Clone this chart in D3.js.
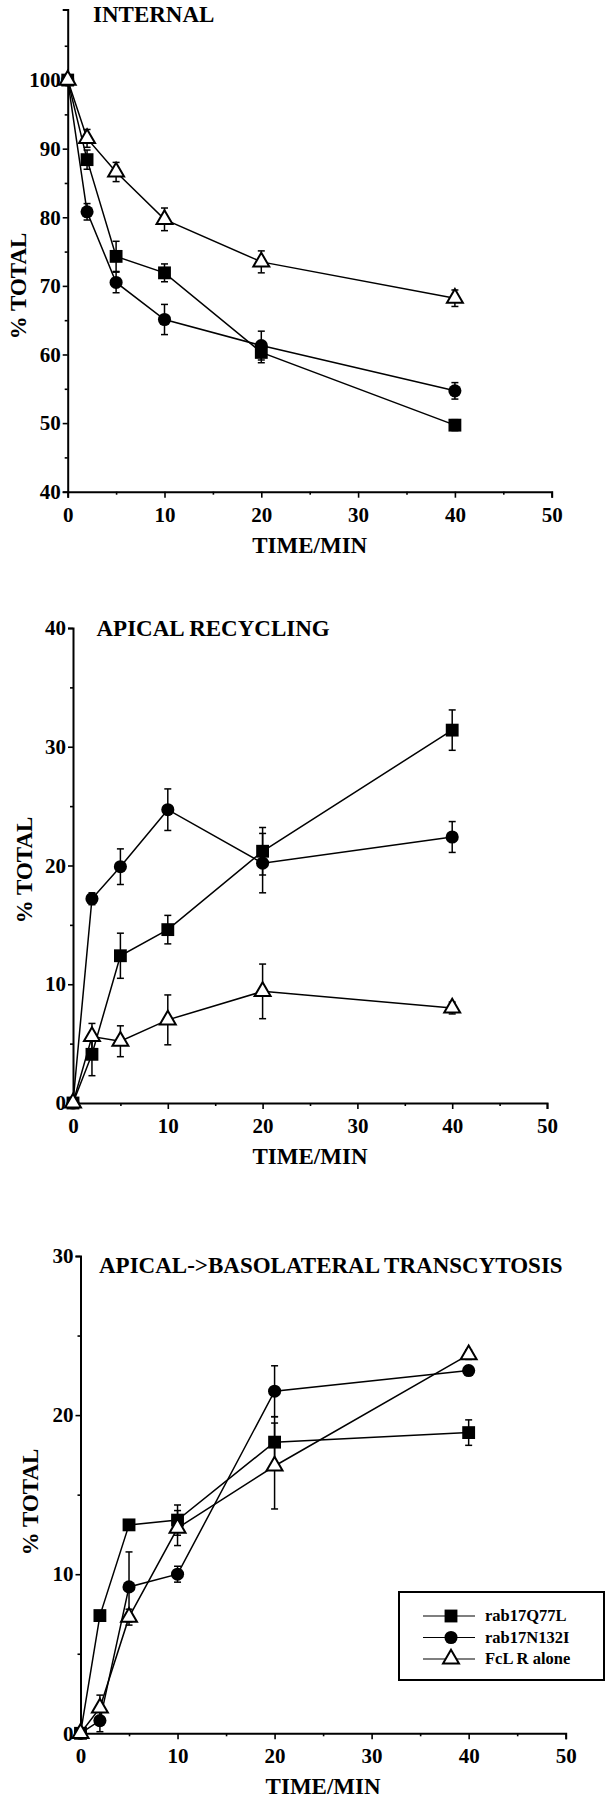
<!DOCTYPE html>
<html>
<head>
<meta charset="utf-8">
<script src="https://cdn.jsdelivr.net/npm/d3@7"></script>
<style>
  html, body { margin: 0; padding: 0; background: #fff; }
  svg text { font-family: "Liberation Serif", "Times New Roman", serif; font-weight: bold; fill: #000; }
</style>
</head>
<body>
<svg id="chart" width="609" height="1800"></svg>
<script>
// ---------- DATA ----------
const times = [0, 2, 5, 10, 20, 40];
const seriesNames = ["rab17Q77L", "rab17N132I", "FcL R alone"];
const seriesShapes = ["square", "circle", "triangle"];

// Panel 1: INTERNAL
const internalQ77L   = [100, 88.4, 74.3, 71.9, 60.3, 49.7];
const internalN132I  = [100, 80.8, 70.5, 65.1, 61.3, 54.7];
const internalFcLR   = [100, 91.5, 86.6, 79.7, 73.5, 68.2];
const internalQ77LErr  = [0, 1.4, 2.2, 1.3, 1.5, 0.8];
const internalN132IErr = [0, 1.2, 1.5, 2.2, 2.1, 1.2];
const internalFcLRErr  = [0, 1.3, 1.4, 1.65, 1.6, 1.2];

// Panel 2: APICAL RECYCLING
const recycQ77L   = [0, 4.1, 12.4, 14.6, 21.2, 31.4];
const recycN132I  = [0, 17.2, 19.9, 24.7, 20.2, 22.4];
const recycFcLR   = [0, 5.6, 5.2, 7.0, 9.4, 8.0];
const recycQ77LErr  = [0, 1.8, 1.9, 1.2, 2.0, 1.7];
const recycN132IErr = [0, 0.5, 1.5, 1.75, 2.5, 1.3];
const recycFcLRErr  = [0, 1.1, 1.3, 2.1, 2.3, 0.5];

// Panel 3: APICAL->BASOLATERAL TRANSCYTOSIS
const transQ77L   = [0, 7.4, 13.1, 13.4, 18.3, 18.9];
const transN132I  = [0, 0.8, 9.2, 10.0, 21.5, 22.8];
const transFcLR   = [0, 1.6, 7.3, 12.9, 16.8, 23.8];
const transQ77LErr  = [0, 0.3, 0.3, 0.95, 1.6, 0.8];
const transN132IErr = [0, 0.7, 2.2, 0.5, 1.6, 0.3];
const transFcLRErr  = [0, 0.8, 0.5, 1.1, 2.7, 0.3];

const xTicks = [0, 10, 20, 30, 40, 50];
const xMinorTicks = [5, 15, 25, 35, 45];
const internalYTicks = [40, 50, 60, 70, 80, 90, 100];
const internalYMinor = [45, 55, 65, 75, 85, 95, 105];
const recycYTicks = [0, 10, 20, 30, 40];
const recycYMinor = [5, 15, 25, 35];
const transYTicks = [0, 10, 20, 30];
const transYMinor = [5, 15, 25];

const panelTitles = ["INTERNAL", "APICAL RECYCLING", "APICAL->BASOLATERAL TRANSCYTOSIS"];
const xAxisTitle = "TIME/MIN";
const yAxisTitle = "% TOTAL";

// ---------- LAYOUT ----------
const panels = [
  { title: panelTitles[0], x0: 67.7, x1: 551.7, yBot: 491.7, yTop: 9.4, yDom: [40, 110.3],
    yTicks: internalYTicks, yMinor: internalYMinor,
    series: [[internalQ77L, internalQ77LErr], [internalN132I, internalN132IErr], [internalFcLR, internalFcLRErr]],
    titleX: 93, titleY: 22, yLabX: 18, yLabY: 286 },
  { title: panelTitles[1], x0: 73, x1: 547, yBot: 1103, yTop: 628, yDom: [0, 40],
    yTicks: recycYTicks, yMinor: recycYMinor,
    series: [[recycQ77L, recycQ77LErr], [recycN132I, recycN132IErr], [recycFcLR, recycFcLRErr]],
    titleX: 96.5, titleY: 636, yLabX: 24, yLabY: 870 },
  { title: panelTitles[2], x0: 80.5, x1: 565.7, yBot: 1733.3, yTop: 1256, yDom: [0, 30],
    yTicks: transYTicks, yMinor: transYMinor,
    series: [[transQ77L, transQ77LErr], [transN132I, transN132IErr], [transFcLR, transFcLRErr]],
    titleX: 99, titleY: 1273, yLabX: 30, yLabY: 1502 }
];

const svg = d3.select("#chart");

function drawMarker(g, shape, cx, cy) {
  if (shape === "square") {
    g.append("path").attr("d", d3.symbol(d3.symbolSquare, 165)()).attr("transform", `translate(${cx},${cy})`)
      .attr("fill", "#000");
  } else if (shape === "circle") {
    g.append("path").attr("d", d3.symbol(d3.symbolCircle, 135)()).attr("transform", `translate(${cx},${cy})`)
      .attr("fill", "#000");
  } else {
    g.append("path").attr("d", d3.symbol(d3.symbolTriangle, 110)()).attr("transform", `translate(${cx},${cy})`)
      .attr("fill", "#fff").attr("stroke", "#000").attr("stroke-width", 2);
  }
}

panels.forEach(p => {
  const g = svg.append("g");
  const x = d3.scaleLinear().domain([0, 50]).range([p.x0, p.x1]);
  const y = d3.scaleLinear().domain(p.yDom).range([p.yBot, p.yTop]);

  // X axis
  g.append("g").attr("transform", `translate(0,${p.yBot})`)
    .call(d3.axisBottom(x).tickValues(xTicks).tickSize(6).tickPadding(9).tickFormat(d3.format("d")));
  g.append("g").attr("transform", `translate(0,${p.yBot})`)
    .call(d3.axisBottom(x).tickValues(xMinorTicks).tickSize(3).tickFormat(""))
    .select(".domain").remove();
  // Y axis
  g.append("g").attr("transform", `translate(${p.x0},0)`)
    .call(d3.axisLeft(y).tickValues(p.yTicks).tickSize(5).tickPadding(2).tickFormat(d3.format("d")));
  g.append("g").attr("transform", `translate(${p.x0},0)`)
    .call(d3.axisLeft(y).tickValues(p.yMinor).tickSize(3).tickFormat(""))
    .select(".domain").remove();

  g.selectAll(".domain").attr("stroke", "#000").attr("stroke-width", 2);
  g.selectAll(".tick line").attr("stroke", "#000").attr("stroke-width", 1.6);
  g.selectAll(".tick text").style("font-size", "21px").style("font-family", "'Liberation Serif', serif")
    .style("font-weight", "bold").attr("fill", "#000");

  // Titles
  g.append("text").attr("x", p.titleX).attr("y", p.titleY).style("font-size", "23px").text(p.title);
  g.append("text").attr("x", (p.x0 + p.x1) / 2).attr("y", p.yBot + 61)
    .attr("text-anchor", "middle").style("font-size", "23px").text(xAxisTitle);
  g.append("text").attr("transform", `translate(${p.yLabX},${p.yLabY}) rotate(-90)`)
    .attr("text-anchor", "middle").attr("dy", "0.35em").style("font-size", "23px").text(yAxisTitle);

  const line = d3.line().x((d, i) => x(times[i])).y(d => y(d));

  // Lines
  p.series.forEach(([vals]) => {
    g.append("path").datum(vals).attr("d", line).attr("fill", "none")
      .attr("stroke", "#000").attr("stroke-width", 1.5);
  });
  // Error bars
  p.series.forEach(([vals, errs]) => {
    vals.forEach((v, i) => {
      if (!errs[i]) return;
      const cx = x(times[i]);
      const yt = y(v + errs[i]), yb = y(v - errs[i]);
      g.append("line").attr("x1", cx).attr("x2", cx).attr("y1", yt).attr("y2", yb)
        .attr("stroke", "#000").attr("stroke-width", 1.5);
      [yt, yb].forEach(yy => g.append("line").attr("x1", cx - 3.5).attr("x2", cx + 3.5)
        .attr("y1", yy).attr("y2", yy).attr("stroke", "#000").attr("stroke-width", 1.5));
    });
  });
  // Markers
  p.series.forEach(([vals], si) => {
    vals.forEach((v, i) => drawMarker(g, seriesShapes[si], x(times[i]), y(v)));
  });
});

// Legend (in the third panel)
const lg = svg.append("g");
lg.append("rect").attr("x", 399).attr("y", 1592).attr("width", 205).attr("height", 88)
  .attr("fill", "#fff").attr("stroke", "#000").attr("stroke-width", 2);
const legendRows = [1616, 1637.5, 1659];
seriesNames.forEach((name, i) => {
  const yy = legendRows[i];
  lg.append("line").attr("x1", 423).attr("x2", 475).attr("y1", yy).attr("y2", yy)
    .attr("stroke", "#000").attr("stroke-width", 1.2);
  drawMarker(lg, seriesShapes[i], 451, yy);
  lg.append("text").attr("x", 485).attr("y", yy).attr("dy", "0.33em").style("font-size", "16.5px").text(name);
});
</script>
</body>
</html>
